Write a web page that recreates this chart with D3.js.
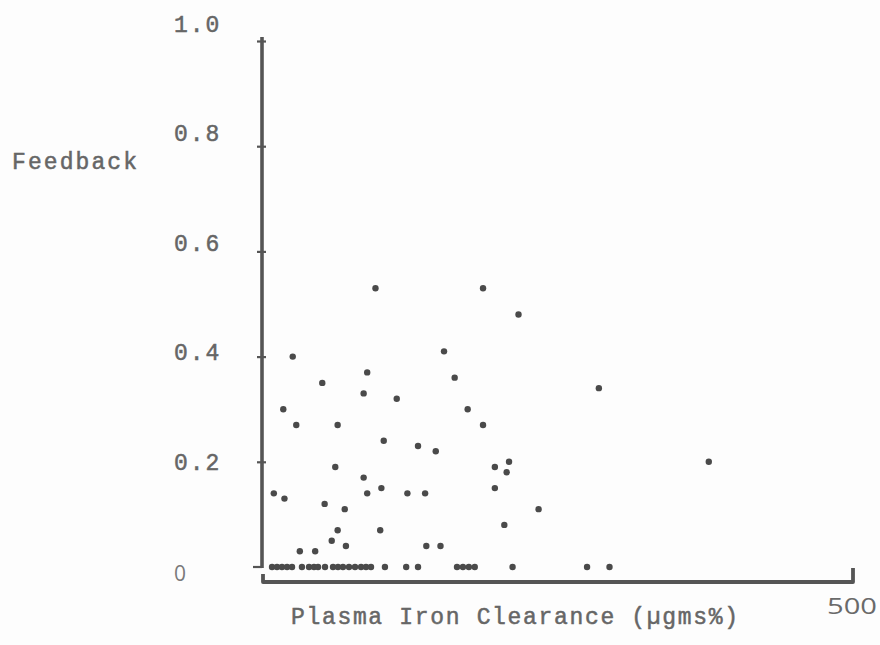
<!DOCTYPE html>
<html>
<head>
<meta charset="utf-8">
<script src="https://cdn.jsdelivr.net/npm/d3@7"></script>
<style>
  html, body { margin: 0; padding: 0; background: #fdfdfd; }
  svg { display: block; }
</style>
</head>
<body>
<svg id="chart" width="880" height="645"></svg>
<script>
// ---- data ----
const clearance = [
  96, 187, 217, 26, 154, 89, 163, 51, 285, 86, 114, 18, 174, 29, 64, 187,
  103, 132, 147, 62, 197, 209, 378, 86, 207, 10, 19, 89, 101, 123, 138, 197,
  53, 70, 234, 64, 100, 205, 59, 71, 32, 45, 139, 151,
  8.5, 12.7, 16.9, 21.2, 25.4, 33.8, 39.8, 44, 47.4, 53.3, 60.1, 64.3, 68.5,
  73.6, 78.7, 83.8, 88, 92.2, 104, 122, 132, 165, 170, 175, 180, 212, 275, 294
];
const feedback = [
  0.53, 0.53, 0.48, 0.40, 0.41, 0.37, 0.36, 0.35, 0.34, 0.33, 0.32, 0.30, 0.30, 0.27, 0.27, 0.27,
  0.24, 0.23, 0.22, 0.19, 0.19, 0.20, 0.20, 0.17, 0.18, 0.14, 0.13, 0.14, 0.15, 0.14, 0.14, 0.15,
  0.12, 0.11, 0.11, 0.07, 0.07, 0.08, 0.05, 0.04, 0.03, 0.03, 0.04, 0.04,
  0, 0, 0, 0, 0, 0, 0, 0, 0, 0, 0, 0, 0,
  0, 0, 0, 0, 0, 0, 0, 0, 0, 0, 0, 0, 0, 0, 0
];
const yTickValues = [0, 0.2, 0.4, 0.6, 0.8, 1.0];
const yTickLabels = ["0", "0.2", "0.4", "0.6", "0.8", "1.0"];
const xTickValues = [500];
const xTickLabels = ["500"];
const yTitle = "Feedback";
const xTitle = "Plasma Iron Clearance (\u00b5gms%)";

// ---- drawing ----
const svg = d3.select("#chart");
const ink = "#555555";
const textInk = "#666666";
const typeFont = "'Liberation Mono', 'Courier New', monospace";
const sansFont = "'Open Sans', 'Liberation Sans', sans-serif";

const x = d3.scaleLinear().domain([0, 500]).range([262, 853]);
const y = d3.scaleLinear().domain([0, 1]).range([567, 41]);
const yLabel = d3.scaleLinear().domain([0, 1]).range([573, 26]);

// y axis (ticks through d3 axis)
const yAxis = d3.axisLeft(y).tickValues(yTickValues.slice(1))
  .tickSizeInner(5).tickSizeOuter(0).tickFormat("");
const gy = svg.append("g").attr("transform", `translate(${x(0)},0)`).call(yAxis);
gy.select(".domain").remove();
gy.selectAll(".tick line").attr("x1", 4).attr("x2", -5)
  .attr("stroke", ink).attr("stroke-width", 2.2);
svg.append("line")
  .attr("x1", x(0)).attr("x2", x(0))
  .attr("y1", y(1) - 4).attr("y2", y(0) + 1)
  .attr("stroke", ink).attr("stroke-width", 3.6);
// zero tick
svg.append("line")
  .attr("x1", x(0) - 9).attr("x2", x(0))
  .attr("y1", y(0)).attr("y2", y(0))
  .attr("stroke", ink).attr("stroke-width", 2.2);

// x axis as a bracket
const xAxisY = y(0) + 15;
svg.append("path")
  .attr("d", `M${x(0) + 1},${xAxisY - 8} L${x(0) + 1},${xAxisY} L${x(500)},${xAxisY} L${x(500)},${xAxisY - 14}`)
  .attr("fill", "none").attr("stroke", ink).attr("stroke-width", 3.8)
  .attr("stroke-linejoin", "round");

// y tick labels
svg.append("g").selectAll("text")
  .data(yTickValues)
  .join("text")
  .attr("x", 174)
  .attr("y", d => yLabel(d))
  .attr("dominant-baseline", "central")
  .attr("font-family", (d, i) => yTickLabels[i] === "0" ? sansFont : typeFont)
  .attr("font-size", (d, i) => yTickLabels[i] === "0" ? 21 : 23)
  .attr("letter-spacing", 2)
  .attr("fill", (d, i) => yTickLabels[i] === "0" ? "#7a7a7a" : textInk)
  .attr("stroke", (d, i) => yTickLabels[i] === "0" ? "none" : textInk)
  .attr("stroke-width", 0.5)
  .text((d, i) => yTickLabels[i]);

// x tick label
svg.append("g").selectAll("text")
  .data(xTickValues)
  .join("text")
  .attr("x", d => x(d) - 26)
  .attr("y", xAxisY + 32)
  .attr("font-family", sansFont)
  .attr("font-size", 21)
  .attr("textLength", 50)
  .attr("lengthAdjust", "spacingAndGlyphs")
  .attr("fill", "#6a6a6a")
  .text((d, i) => xTickLabels[i]);

// titles
svg.append("text")
  .attr("x", 12).attr("y", 169)
  .attr("font-family", typeFont).attr("font-size", 23)
  .attr("textLength", 125).attr("lengthAdjust", "spacing")
  .attr("fill", textInk).attr("stroke", textInk).attr("stroke-width", 0.5)
  .text(yTitle);
svg.append("text")
  .attr("x", 291).attr("y", 624)
  .attr("font-family", typeFont).attr("font-size", 23)
  .attr("textLength", 447).attr("lengthAdjust", "spacing")
  .attr("fill", textInk).attr("stroke", textInk).attr("stroke-width", 0.5)
  .text(xTitle);

// points
svg.append("g").selectAll("circle")
  .data(clearance.map((c, i) => [c, feedback[i]]))
  .join("circle")
  .attr("cx", d => x(d[0]))
  .attr("cy", d => y(d[1]))
  .attr("r", 3.2)
  .attr("fill", "#4a4a4a");
</script>
</body>
</html>
